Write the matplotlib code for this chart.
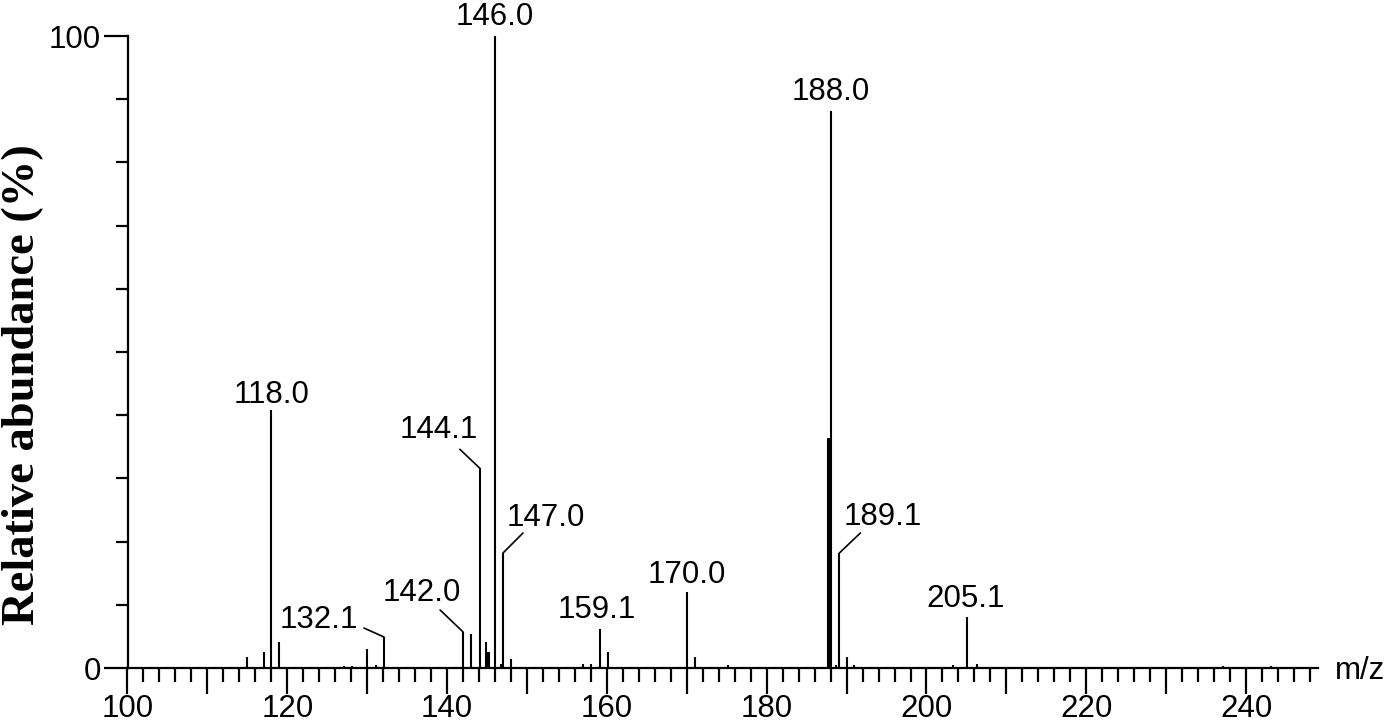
import matplotlib
matplotlib.use("Agg")
import matplotlib.pyplot as plt
from matplotlib.ticker import MultipleLocator, FuncFormatter, FixedLocator

# ---- data ----
mz = [115.0, 117.1, 118.0, 119.0, 127.1, 128.1, 130.0, 131.1, 132.1,
      142.0, 143.0, 144.1, 144.9, 145.1, 145.2, 146.0, 146.8, 147.0, 148.0,
      157.0, 158.0, 159.1, 160.1, 170.0, 171.0, 175.2,
      187.7, 187.8, 188.0, 188.7, 189.1, 190.0, 190.9,
      203.3, 205.1, 206.3, 237.1, 243.1]
intensity = [1.7, 2.5, 40.8, 4.1, 0.3, 0.3, 3.0, 0.5, 4.9,
             5.7, 5.4, 31.6, 4.1, 2.5, 2.5, 100.0, 0.6, 18.2, 1.4,
             0.6, 0.6, 6.2, 2.5, 12.0, 1.7, 0.5,
             36.4, 36.4, 88.1, 0.5, 18.2, 1.7, 0.4,
             0.5, 8.1, 0.7, 0.3, 0.3]

label_mz = [118.0, 132.1, 142.0, 144.1, 146.0, 147.0, 159.1, 170.0, 188.0, 189.1, 205.1]
label_text = ["118.0", "132.1", "142.0", "144.1", "146.0", "147.0",
              "159.1", "170.0", "188.0", "189.1", "205.1"]

x_label = "m/z"
y_label = "Relative abundance (%)"

# ---- styling: label offsets in pixels (text dx, dy, ha; leader end dx, dy or None) ----
label_style = {
    "118.0": (0, 15, "center", None),
    "132.1": (-26, 17, "right", (-20, 9)),
    "142.0": (-41, 39, "center", (-23, 22)),
    "144.1": (-41, 38, "center", (-20, 19)),
    "146.0": (0, 19, "center", None),
    "147.0": (43, 35, "center", (20, 20)),
    "159.1": (-3, 19, "center", None),
    "170.0": (0, 17, "center", None),
    "188.0": (0, 19, "center", None),
    "189.1": (43, 36, "center", (21, 20)),
    "205.1": (-2, 18, "center", None),
}

W, H = 1400, 724
fig = plt.figure(figsize=(W / 100, H / 100), dpi=100)
fig.patch.set_facecolor("white")

left_px, right_px = 127.5, 127.5 + 149 * 7.99
bottom_px, top_px = 668, 36
ax = fig.add_axes([left_px / W, (H - bottom_px) / H,
                   (right_px - left_px) / W, (bottom_px - top_px) / H])

ax.vlines(mz, 0, intensity, colors="black", linewidth=1.5, clip_on=False)

ax.set_xlim(100, 249)
ax.set_ylim(0, 100)

for s in ["top", "right"]:
    ax.spines[s].set_visible(False)
for s in ["left", "bottom"]:
    ax.spines[s].set_linewidth(1.6)
    ax.spines[s].set_color("black")

tick_font = dict(family="Liberation Sans", size=22.5)

ax.xaxis.set_major_locator(MultipleLocator(10))
ax.xaxis.set_minor_locator(MultipleLocator(2))
ax.xaxis.set_major_formatter(FuncFormatter(
    lambda v, p: f"{int(round(v))}" if int(round(v)) % 20 == 0 else ""))
ax.tick_params(axis="x", which="major", direction="out", length=19, width=1.6, pad=0)
ax.tick_params(axis="x", which="minor", direction="out", length=10, width=1.6)

ax.yaxis.set_major_locator(FixedLocator([0, 100]))
ax.yaxis.set_minor_locator(FixedLocator(list(range(10, 100, 10))))
ax.tick_params(axis="y", which="major", direction="out", length=17, width=1.6, pad=2)
ax.tick_params(axis="y", which="minor", direction="out", length=8.5, width=1.6)

for lab in ax.get_xticklabels() + ax.get_yticklabels():
    lab.set_fontfamily(tick_font["family"])
    lab.set_fontsize(tick_font["size"])

ax.set_ylabel(y_label, fontfamily="Liberation Serif", fontweight="bold", fontsize=33.5)
ax.yaxis.set_label_coords(-(left_px - 23) / (right_px - left_px),
                          (bottom_px - 385) / (bottom_px - top_px))
ax.yaxis.label.set_va("center")

ax.annotate(x_label, xy=(1, 0), xycoords="axes fraction", xytext=(17, -3),
            textcoords="offset pixels", ha="left", va="center",
            fontfamily="Liberation Sans", fontsize=22.5)

lookup = dict(zip(mz, intensity))
for m, t in zip(label_mz, label_text):
    y = lookup[m]
    dx, dy, ha, lead = label_style[t]
    ax.annotate(t, xy=(m, y), xytext=(dx, dy), textcoords="offset pixels",
                ha=ha, va="center", fontfamily="Liberation Sans", fontsize=22.5,
                annotation_clip=False)
    if lead is not None:
        ax.annotate("", xy=(m, y), xytext=lead, textcoords="offset pixels",
                    arrowprops=dict(arrowstyle="-", lw=1.2, color="black",
                                    shrinkA=0, shrinkB=0),
                    annotation_clip=False)

fig.savefig("out.png", dpi=100, facecolor="white")
